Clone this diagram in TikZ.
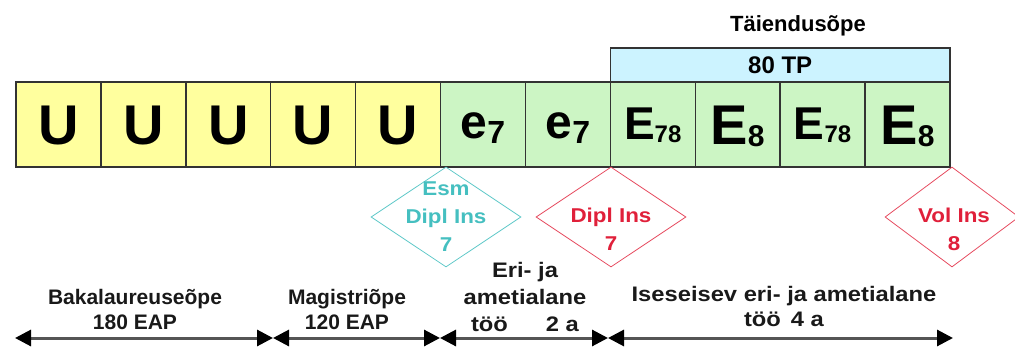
\documentclass[tikz,border=0pt]{standalone}
\usepackage{fontspec}
\setmainfont{Liberation Sans}
\usepackage{tikz}
\usetikzlibrary{arrows.meta}
\usetikzlibrary{shapes.geometric}

\definecolor{uyellow}{HTML}{FFFF9E}
\definecolor{egreen}{HTML}{CCF5C4}
\definecolor{tpblue}{HTML}{CCF3FF}
\definecolor{esmcyan}{HTML}{45BFC0}
\definecolor{insred}{HTML}{E0203A}
\definecolor{linegray}{HTML}{555555}
\newcommand\fsz[1]{\fontsize{#1}{#1}\selectfont}

\begin{document}
\begin{tikzpicture}[x=1pt,y=-1pt]
\useasboundingbox (0,0) rectangle (1015,350);
\begin{scope}[every node/.style={rectangle,draw=black!80,line width=1.4pt,inner sep=0pt,outer sep=0pt,
                                 minimum width=84.9pt,minimum height=85pt,font=\bfseries,text depth=0pt},
              ubox/.style={fill=uyellow,text height=41pt},
              ebox/.style={fill=egreen,text height=29pt},
              Ebox/.style={fill=egreen,text height=31pt},
              EEbox/.style={fill=egreen,text height=41pt}]
    \node[ubox] (u1) at (58.45,124.5) {\fsz{56}U};
    \node[ubox] (u2) at (143.35,124.5) {\fsz{56}U};
    \node[ubox] (u3) at (228.25,124.5) {\fsz{56}U};
    \node[ubox] (u4) at (313.15,124.5) {\fsz{56}U};
    \node[ubox] (u5) at (398.05,124.5) {\fsz{56}U};
    \node[ebox] (e1) at (482.95,124.5) {\fsz{48}e\fsz{32}\raisebox{-5pt}{7}};
    \node[ebox] (e2) at (567.85,124.5) {\fsz{48}e\fsz{32}\raisebox{-5pt}{7}};
    \node[Ebox] (E1) at (652.75,124.5) {\fsz{46}E\fsz{24}\raisebox{-3pt}{78}};
    \node[EEbox] (E2) at (737.65,124.5) {\fsz{56}E\fsz{30}\raisebox{-2pt}{8}};
    \node[Ebox] (E3) at (822.55,124.5) {\fsz{46}E\fsz{24}\raisebox{-3pt}{78}};
    \node[EEbox] (E4) at (907.45,124.5) {\fsz{56}E\fsz{30}\raisebox{-2pt}{8}};
    \node[fill=tpblue,minimum width=339.6pt,minimum height=34pt] (tp) at (780.2,65) {\fsz{24}80 TP};
    \node[draw=none] (taiend) at (798,24) {\fsz{22}Täiendusõpe};
\end{scope}
\begin{scope}[every node/.style={diamond,line width=0.8pt,inner sep=0pt,minimum width=150pt,minimum height=100pt},
              txt/.style={rectangle,minimum width=0pt,minimum height=0pt,align=center,
                          font=\bfseries\fontsize{20}{28}\selectfont\addfontfeature{FakeStretch=1.12}}]
    \node[draw=esmcyan!85] (esm) at (446,217) {};
    \node[draw=insred!80] (dipl) at (611,217) {};
    \node[draw=insred!80,minimum width=134pt] (vol) at (952,217) {};
    \node[txt,text=esmcyan] (esmtxt) at (esm.center) {Esm\\Dipl Ins\\7};
    \node[txt,text=insred] (dipltxt) at (611,229) {Dipl Ins\\7};
    \node[txt,text=insred] (voltxt) at (954,229) {Vol Ins\\8};
\end{scope}
\begin{scope}[every node/.style={align=center,inner sep=0pt,text=black!90,font=\bfseries\fontsize{21}{25}\selectfont},
              wide/.style={font=\bfseries\fontsize{21}{#1}\selectfont\addfontfeature{FakeStretch=1.13}}]
    \node (bak) at (135,309) {Bakalaureuseõpe\\180 EAP};
    \node (mag) at (347,309) {Magistriõpe\\120 EAP};
    \node[wide=27] (eri) at (525,297) {Eri- ja\\ametialane\\töö\hspace{38pt}2 a};
    \node[wide=25] (ise) at (784,306) {Iseseisev eri- ja ametialane\\töö\hspace{10pt}4 a};
\end{scope}
\coordinate (a0) at (15,338);
\coordinate (a1) at (273,338);
\coordinate (a2) at (440,338);
\coordinate (a3) at (608,338);
\coordinate (a4) at (953,338);
\begin{scope}[>={Triangle[black,length=16pt,width=16pt]},
              seg/.style={draw=linegray,line width=3pt}]
    \path [<->] (a0) edge [seg] (a1);
    \path [<->] (a1) edge [seg] (a2);
    \path [<->] (a2) edge [seg] (a3);
    \path [<->] (a3) edge [seg] (a4);
\end{scope}
\end{tikzpicture}
\end{document}
